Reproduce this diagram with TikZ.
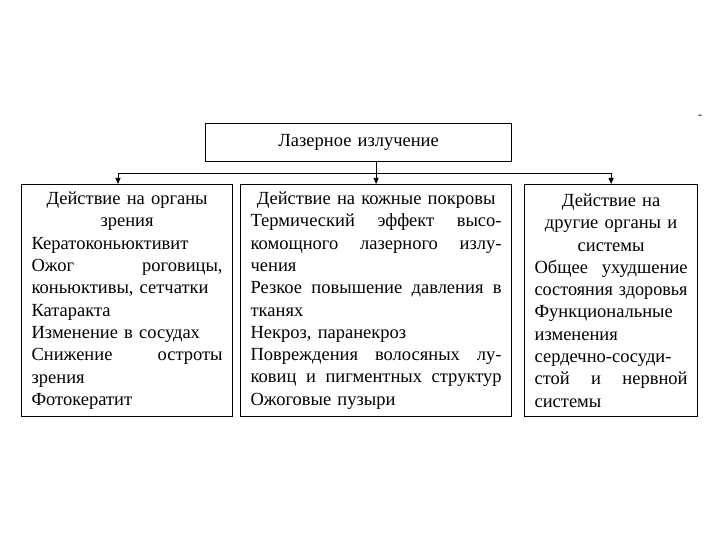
\documentclass[tikz,border=0pt]{standalone}
\usepackage{fontspec}
\usepackage{graphicx}
\setmainfont{Liberation Serif}
\usetikzlibrary{arrows.meta, positioning, calc}
\newcommand{\hd}[1]{\hfill#1\hfill\mbox{}}
\newcommand{\fitline}[1]{\resizebox{\linewidth}{\height}{#1}}

\begin{document}
\begin{tikzpicture}[x=1pt, y=-1pt, >={Triangle[length=6pt,width=5pt]},
    box/.style={draw, line width=1.2pt, inner xsep=10pt, inner ysep=3pt,
      align=left, font=\fontsize{18.5}{22.3}\selectfont, anchor=north west},
    link/.style={line width=0.8pt}]
    \useasboundingbox (0,0) rectangle (720,540);
    \node[box, align=center, text width=286pt, minimum height=38pt] (laser) at (205,123) {Лазерное излучение};
    % three groups
    \node[box, text width=191pt, minimum height=232pt] (eyes) at (21,184)
      {\hd{Действие на органы}\\ \hd{зрения}\\ Кератоконьюктивит\\ Ожог\hfill роговицы,\\
       коньюктивы, сетчатки\\ Катаракта\\ Изменение в сосудах\\ Снижение\hfill остроты\\
       зрения\\ Фотокератит};
    \node[box, text width=251pt, minimum height=232pt] (skin) at (240,184)
      {\hd{Действие на кожные покровы}\\ Термический\hfill эффект\hfill высо-\\
       комощного\hfill лазерного\hfill излу-\\ чения\\ Резкое\hfill повышение\hfill давления\hfill в\\
       тканях\\ Некроз, паранекроз\\ Повреждения\hfill волосяных\hfill лу-\\
       ковиц\hfill и\hfill пигментных\hfill структур\\ Ожоговые пузыри};
    \node[box, text width=153pt, minimum height=232pt] (other) at (524,184)
      {\hd{Действие на}\\ \hd{другие органы и}\\ \hd{системы}\\ Общее\hfill ухудшение\\
       \fitline{состояния здоровья}\\ Функциональные\\ изменения\\ сердечно-сосуди-\\
       стой\hfill и\hfill нервной\\ системы};
    \node[font=\fontsize{12}{12}\selectfont, inner sep=0pt] (dash) at (700,117) {-};
    % connectors
    \coordinate (busL) at (118,173);
    \coordinate (busR) at (other.north |- busL);
    \draw[link, ->] (laser.south -| skin.north) -- (skin.north);
    \draw[link] (busL) -- (busR);
    \draw[link, ->] (busL) -- (busL |- eyes.north);
    \draw[link, ->] (busR) -- (other.north);
\end{tikzpicture}
\end{document}
